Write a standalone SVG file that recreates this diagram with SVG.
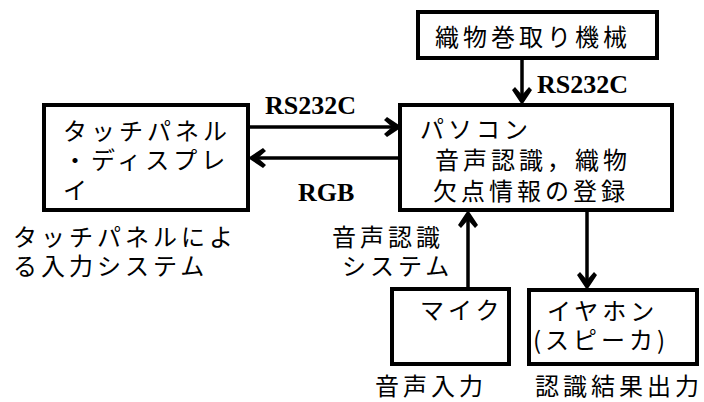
<svg xmlns="http://www.w3.org/2000/svg" width="704" height="402" viewBox="0 0 704 402">
<style>
.box{fill:#fff;stroke:#000;stroke-width:4}
.jp{font-family:"Noto Sans CJK JP","Noto Sans CJK SC",sans-serif;font-size:24px;letter-spacing:4px;fill:#000}
.en{font-family:"Liberation Serif","Times New Roman",serif;font-size:26px;font-weight:bold;fill:#000}
.con{stroke:#000;stroke-width:3.5;fill:none;marker-end:url(#ah)}
</style>
<defs>
<marker id="ah" markerUnits="userSpaceOnUse" viewBox="-12 -12 24 24" markerWidth="24" markerHeight="24" refX="0" refY="0" orient="auto">
<path d="M8,0 L-7,-10 L-10,-7 L-2,0 L-10,7 L-7,10 Z" fill="#000"/>
</marker>
</defs>
<rect width="704" height="402" fill="#fff"/>
<g id="connectors">
<path class="con" d="M522,58 L522,97"/>
<path class="con" d="M250,127 L394,127"/>
<path class="con" d="M400,158 L256,158"/>
<path class="con" d="M468,289 L468,218"/>
<path class="con" d="M587,210 L587,282"/>
<text class="en" x="537" y="93">RS232C</text>
<text class="en" x="265" y="114">RS232C</text>
<text class="en" x="298" y="201">RGB</text>
<text class="jp" x="332" y="246">音声認識<tspan x="342" dy="29">システム</tspan></text>
</g>
<g id="loom">
<rect class="box" x="418" y="12" width="239" height="46"/>
<text class="jp" x="435" y="46">織物巻取り機械</text>
</g>
<g id="pc">
<rect class="box" x="400" y="105" width="272" height="105"/>
<text class="jp" x="420" y="138">パソコン<tspan x="435" dy="31">音声認識，織物</tspan><tspan x="433" dy="31">欠点情報の登録</tspan></text>
</g>
<g id="touchpanel">
<rect class="box" x="44" y="105" width="204" height="105"/>
<text class="jp" x="63" y="140">タッチパネル<tspan x="63" dy="29">・ディスプレ</tspan><tspan x="63" dy="30">イ</tspan></text>
<text class="jp" x="13" y="246">タッチパネルによ<tspan x="13" dy="29">る入力システム</tspan></text>
</g>
<g id="mic">
<rect class="box" x="392" y="289" width="117" height="75"/>
<text class="jp" x="420" y="319">マイク</text>
<text class="jp" x="375" y="395">音声入力</text>
</g>
<g id="earphone">
<rect class="box" x="529" y="290" width="168" height="74"/>
<text class="jp" x="547" y="320">イヤホン<tspan x="533" dy="29">(スピーカ)</tspan></text>
<text class="jp" x="535" y="395">認識結果出力</text>
</g>
</svg>
